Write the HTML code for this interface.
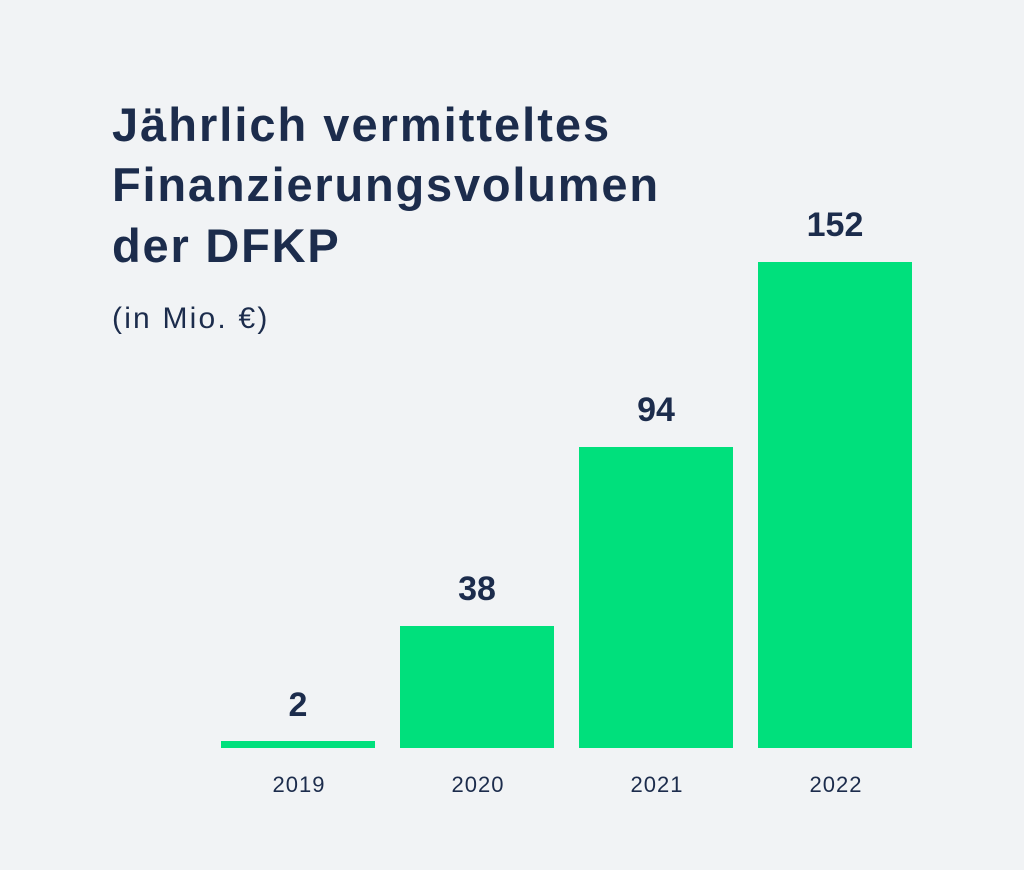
<!DOCTYPE html>
<html>
<head>
<meta charset="utf-8">
<style>
  html, body { margin:0; padding:0; background:#f1f3f5; }
  svg { display:block; }
  text { font-family: "Liberation Sans", "DejaVu Sans", sans-serif; fill:#1c2c4c; }
</style>
</head>
<body>
<svg width="1024" height="870" viewBox="0 0 1024 870" xmlns="http://www.w3.org/2000/svg">
  <rect x="0" y="0" width="1024" height="870" fill="#f1f3f5"/>
  <!-- Title -->
  <text x="112" y="141" font-size="47" font-weight="bold" letter-spacing="2.0">Jährlich vermitteltes</text>
  <text x="112" y="201" font-size="47" font-weight="bold" letter-spacing="1.8">Finanzierungsvolumen</text>
  <text x="112" y="262" font-size="47" font-weight="bold" letter-spacing="1.8">der DFKP</text>
  <text x="112" y="328" font-size="30" letter-spacing="2.2">(in Mio. €)</text>

  <!-- Bars -->
  <rect x="221" y="741" width="154" height="7" fill="#00e07c"/>
  <rect x="400" y="626" width="154" height="122" fill="#00e07c"/>
  <rect x="579" y="447" width="154" height="301" fill="#00e07c"/>
  <rect x="758" y="262" width="154" height="486" fill="#00e07c"/>

  <!-- Values -->
  <text x="298" y="716" font-size="34" font-weight="bold" text-anchor="middle">2</text>
  <text x="477" y="600" font-size="34" font-weight="bold" text-anchor="middle">38</text>
  <text x="656" y="421" font-size="34" font-weight="bold" text-anchor="middle">94</text>
  <text x="835" y="236" font-size="34" font-weight="bold" text-anchor="middle">152</text>

  <!-- Years -->
  <text x="299" y="792" font-size="22" letter-spacing="1" text-anchor="middle">2019</text>
  <text x="478" y="792" font-size="22" letter-spacing="1" text-anchor="middle">2020</text>
  <text x="657" y="792" font-size="22" letter-spacing="1" text-anchor="middle">2021</text>
  <text x="836" y="792" font-size="22" letter-spacing="1" text-anchor="middle">2022</text>
</svg>
</body>
</html>
